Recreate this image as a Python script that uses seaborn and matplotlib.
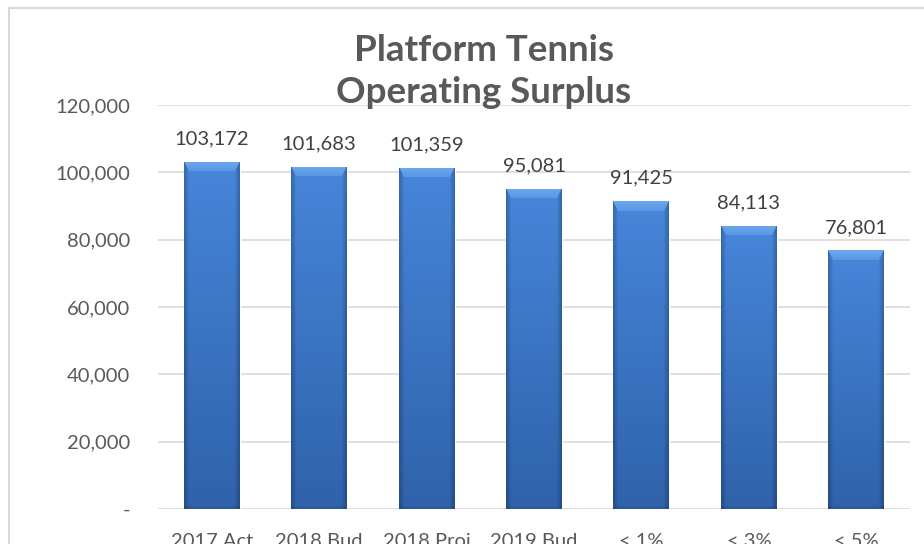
import numpy as np
import pandas as pd
import matplotlib
matplotlib.use("Agg")
import matplotlib.pyplot as plt
import matplotlib.colors as mcolors
from matplotlib.patches import Rectangle
import seaborn as sns

categories = ["2017 Act", "2018 Bud", "2018 Proj", "2019 Bud", "< 1%", "< 3%", "< 5%"]
surplus = [103172, 101683, 101359, 95081, 91425, 84113, 76801]
y_ticks = [0, 20000, 40000, 60000, 80000, 100000, 120000]
title_text = "Platform Tennis\nOperating Surplus"

sns.set_theme(style="white")
plt.rcParams["font.family"] = ["Lato", "DejaVu Sans"]

W, H = 924, 544
fig = plt.figure(figsize=(W / 100, H / 100), dpi=100)
fig.patch.set_facecolor("white")

ax_left, ax_right, ax_top, ax_bottom = 158, 910, 105, 509
ax = fig.add_axes([ax_left / W, 1 - ax_bottom / H,
                   (ax_right - ax_left) / W, (ax_bottom - ax_top) / H])

df = pd.DataFrame({"category": categories, "surplus": surplus})
sns.barplot(data=df, x="category", y="surplus", ax=ax, color="#3C7BCF",
            width=0.52, saturation=1, zorder=2)

ax.set_xlim(-0.5, len(categories) - 0.5)
ax.set_ylim(y_ticks[0], y_ticks[-1])
ax.set_yticks(y_ticks)
ax.set_yticklabels(["-" if v == 0 else f"{v:,}" for v in y_ticks])
ax.set_xlabel("")
ax.set_ylabel("")
for s in ax.spines.values():
    s.set_visible(False)
ax.yaxis.grid(True, color="#D9D9D9", linewidth=1.2, zorder=0)
ax.set_axisbelow(True)
ax.tick_params(axis="y", length=0, pad=20, labelsize=14.5, labelcolor="#595959")
ax.tick_params(axis="x", length=0, pad=17, labelsize=14.5, labelcolor="#595959")


def shade_bar(ax, patch, px_per_unit):
    """Paint a bevelled vertical gradient inside one bar."""
    x, y = patch.get_x(), patch.get_y()
    w, h = patch.get_width(), patch.get_height()
    n_cols = 56
    n_rows = max(int(round(h * px_per_unit)), 2)
    top = np.array(mcolors.to_rgb("#4786DA"))
    bottom = np.array(mcolors.to_rgb("#2F62AA"))
    t = np.linspace(0, 1, n_rows)[:, None, None]
    img = top * (1 - t) + bottom * t
    img = np.repeat(img, n_cols, axis=1)
    cols = np.arange(n_cols)
    edge = np.minimum(cols, n_cols - 1 - cols)
    side_w = 5
    side = np.clip(1 - edge / side_w, 0, 1) * 0.22
    img = img * (1 - side[None, :, None])
    bevel = 10
    light = np.array(mcolors.to_rgb("#6CA8EE"))
    for r in range(min(bevel, n_rows)):
        k = r / bevel
        mask = edge >= k * side_w
        shade = light * (1 - 0.5 * k) + img[r, mask] * (0.5 * k)
        img[r, mask] = shade
    img[-3:] *= 0.93
    im = ax.imshow(img, extent=[x, x + w, y, y + h], origin="upper",
                   aspect="auto", interpolation="bilinear", zorder=2.5)
    im.set_clip_path(patch)


p0 = ax.transData.transform((0, 0))
p1 = ax.transData.transform((0, 1000))
px_per_unit = abs(p1[1] - p0[1]) / 1000
for patch in list(ax.patches):
    shade_bar(ax, patch, px_per_unit)

ax.set_xlim(-0.5, len(categories) - 0.5)
ax.set_ylim(y_ticks[0], y_ticks[-1])

for i, v in enumerate(surplus):
    ax.annotate(f"{v:,}", xy=(i, v), xytext=(0, 12.5), textcoords="offset points",
                ha="center", va="baseline", fontsize=14.5, color="#404040",
                zorder=4)

fig.text(484 / W, 1 - 34 / H, title_text, ha="center", va="top",
         fontsize=26.5, fontweight="bold", color="#595959", linespacing=1.32,
         zorder=5)

fig.patches.append(Rectangle((9 / W, -0.1), 1.2, 1 - 8 / H + 0.1,
                             transform=fig.transFigure, fill=False,
                             edgecolor="#D9D9D9", linewidth=1.5))

fig.savefig("out.png", dpi=100)
